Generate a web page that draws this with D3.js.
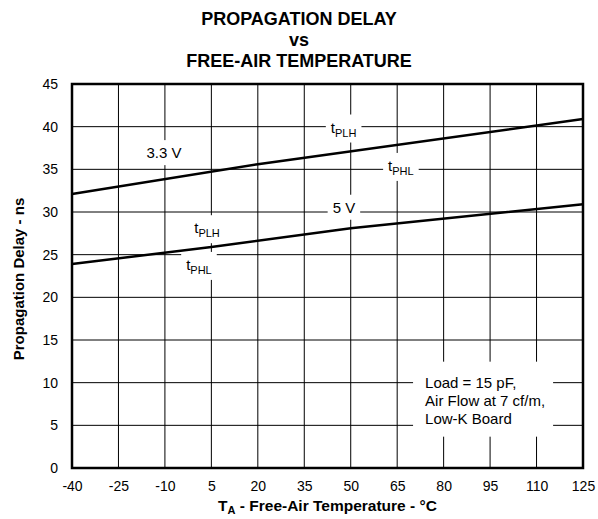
<!DOCTYPE html>
<html>
<head>
<meta charset="utf-8">
<script src="https://cdn.jsdelivr.net/npm/d3@7"></script>
<style>
  body { margin: 0; background: #fff; }
  svg { font-family: "Liberation Sans", Arial, sans-serif; }
  .tick text { font-size: 14px; fill: #000; }
</style>
</head>
<body>
<svg></svg>
<script>
// chart values
const xTicks = [-40, -25, -10, 5, 20, 35, 50, 65, 80, 95, 110, 125]
const yTicks = [0, 5, 10, 15, 20, 25, 30, 35, 40, 45]

const temps33 = [-40, 20, 125]
const delay33 = [32.1, 35.6, 40.9]
const temps5 = [-40, 5, 50, 125]
const delay5 = [23.9, 25.9, 28.1, 30.9]

// labels placed in data coordinates: [temp, delay, main, sub]
const curveLabels = [
  [47.7, 39.9, "t", "PLH"],
  [66.2, 35.4, "t", "PHL"],
  [-10.3, 36.9, "3.3 V", ""],
  [47.8, 30.5, "5 V", ""],
  [3.6, 28.1, "t", "PLH"],
  [1.0, 23.8, "t", "PHL"]
]
const noteLines = ["Load = 15 pF,", "Air Flow at 7 cf/m,", "Low-K Board"]
const noteAt = [74, 10]

const titleLines = ["PROPAGATION DELAY", "vs", "FREE-AIR TEMPERATURE"]

const width = 598, height = 519
const margin = { top: 84, right: 15, bottom: 51, left: 72 }
const w = width - margin.left - margin.right
const h = height - margin.top - margin.bottom

const svg = d3.select("svg")
  .attr("width", width)
  .attr("height", height)

const x = d3.scaleLinear().domain([-40, 125]).range([0, w])
const y = d3.scaleLinear().domain([0, 45]).range([h, 0])

// title
svg.append("g")
  .selectAll("text")
  .data(titleLines)
  .enter()
  .append("text")
  .attr("x", 299)
  .attr("y", (d, i) => 25 + i * 21)
  .attr("text-anchor", "middle")
  .style("font-size", "18px")
  .style("font-weight", "bold")
  .text(d => d)

const plot = svg.append("g")
  .attr("transform", `translate(${margin.left}, ${margin.top})`)

// grid
plot.append("g")
  .selectAll("line.v")
  .data(xTicks.slice(1, -1))
  .enter()
  .append("line")
  .attr("x1", d => x(d)).attr("x2", d => x(d))
  .attr("y1", 0).attr("y2", h)
  .attr("stroke", "#000")
  .attr("stroke-width", 1)

plot.append("g")
  .selectAll("line.h")
  .data(yTicks.slice(1, -1))
  .enter()
  .append("line")
  .attr("x1", 0).attr("x2", w)
  .attr("y1", d => y(d)).attr("y2", d => y(d))
  .attr("stroke", "#000")
  .attr("stroke-width", 1)

// axes (labels only)
const xAxis = plot.append("g")
  .attr("transform", `translate(0, ${h})`)
  .call(d3.axisBottom(x).tickValues(xTicks).tickSize(0).tickPadding(13).tickFormat(d => String(d)))
xAxis.select(".domain").remove()

const yAxis = plot.append("g")
  .call(d3.axisLeft(y).tickValues(yTicks).tickSize(0).tickPadding(14).tickFormat(d => String(d)))
yAxis.select(".domain").remove()

// curve labels with white knock-out boxes
const labelG = plot.append("g")
curveLabels.forEach(l => {
  const g = labelG.append("g")
  const t = g.append("text")
    .attr("x", x(l[0]))
    .attr("y", y(l[1]) + 5)
    .attr("text-anchor", "middle")
    .style("font-size", "15px")
  t.append("tspan").text(l[2])
  if (l[3]) {
    t.append("tspan")
      .attr("dy", 4)
      .style("font-size", "11px")
      .text(l[3])
  }
  const b = t.node().getBBox()
  g.insert("rect", "text")
    .attr("x", b.x - 5)
    .attr("y", b.y - 4)
    .attr("width", b.width + 10)
    .attr("height", b.height + 8)
    .attr("fill", "#fff")
})

// note box
const noteG = plot.append("g")
const note = noteG.append("text")
  .style("font-size", "15px")
note.selectAll("tspan")
  .data(noteLines)
  .enter()
  .append("tspan")
  .attr("x", x(noteAt[0]))
  .attr("y", (d, i) => y(noteAt[1]) + 5 + i * 18)
  .text(d => d)
const nb = note.node().getBBox()
noteG.insert("rect", "text")
  .attr("x", nb.x - 12)
  .attr("y", nb.y - 12)
  .attr("width", nb.width + 20)
  .attr("height", nb.height + 22)
  .attr("fill", "#fff")

// curves
const line = d3.line()
  .x(d => x(d[0]))
  .y(d => y(d[1]))

const series = [
  d3.zip(temps33, delay33),
  d3.zip(temps5, delay5)
]

plot.selectAll("path.curve")
  .data(series)
  .enter()
  .append("path")
  .attr("class", "curve")
  .attr("d", d => line(d))
  .attr("fill", "none")
  .attr("stroke", "#000")
  .attr("stroke-width", 2.5)

// frame
plot.append("rect")
  .attr("x", 0).attr("y", 0)
  .attr("width", w).attr("height", h)
  .attr("fill", "none")
  .attr("stroke", "#000")
  .attr("stroke-width", 2.5)

// axis titles
const xt = svg.append("text")
  .attr("x", margin.left + w / 2)
  .attr("y", 511)
  .attr("text-anchor", "middle")
  .style("font-size", "15.5px")
  .style("font-weight", "bold")
xt.append("tspan").text("T")
xt.append("tspan").attr("dy", 3).style("font-size", "11px").text("A")
xt.append("tspan").attr("dy", -3).text(" - Free-Air Temperature - °C")

svg.append("text")
  .attr("transform", `translate(24, ${margin.top + h / 2 + 3}) rotate(-90)`)
  .attr("text-anchor", "middle")
  .style("font-size", "15px")
  .style("font-weight", "bold")
  .text("Propagation Delay - ns")
</script>
</body>
</html>
